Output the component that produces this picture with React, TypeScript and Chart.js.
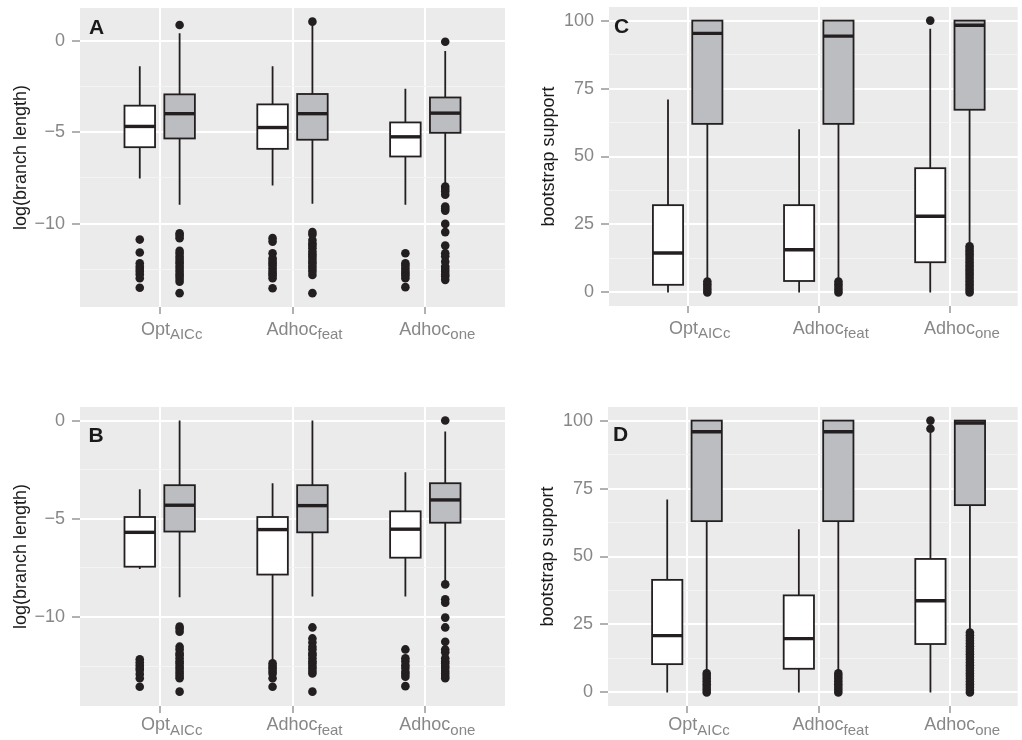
import React, { useEffect, useRef } from 'react';
import { Chart, registerables } from 'chart.js';

Chart.register(...registerables);

// ---------------- data ----------------
const categories = ['Opt', 'Adhoc', 'Adhoc'];
const categorySubscripts = ['AICc', 'feat', 'one'];

// box statistics per category: [lower whisker, Q1, median, Q3, upper whisker]
// Panel A
const aWhiteStats = [
  [-7.53, -5.81, -4.67, -3.53, -1.37],
  [-7.91, -5.9, -4.73, -3.46, -1.37],
  [-8.97, -6.32, -5.24, -4.45, -2.6],
];
const aGreyStats = [
  [-8.97, -5.33, -3.97, -2.91, 0.44],
  [-8.92, -5.4, -3.97, -2.89, 1.0],
  [-7.88, -5.02, -3.94, -3.08, -0.53],
];
const aWhiteOutliers = [
  [-10.88, -11.59, -12.18, -12.36, -12.5, -12.64, -12.8, -13.0, -13.52],
  [-10.8, -10.99, -11.63, -11.9, -12.05, -12.18, -12.3, -12.45, -12.6, -12.73, -12.85, -13.0, -13.55],
  [-11.63, -12.18, -12.3, -12.45, -12.6, -12.73, -12.85, -13.0, -13.49],
];
const aGreyOutliers = [
  [0.9, -10.53, -10.65, -10.8, -11.5, -11.65, -11.81, -11.95, -12.09, -12.2, -12.36, -12.5, -12.64, -12.78, -12.91, -13.05, -13.19, -13.82],
  [1.08, -10.47, -10.6, -10.9, -11.08, -11.2, -11.35, -11.54, -11.68, -11.81, -11.95, -12.09, -12.2, -12.36, -12.5, -12.64, -12.82, -13.82],
  [-0.02, -7.97, -8.1, -8.24, -8.42, -9.07, -9.18, -9.29, -10.02, -10.47, -11.21, -11.63, -11.8, -12.09, -12.36, -12.5, -12.64, -12.8, -12.91, -13.09],
];

// Panel B
const bWhiteStats = [
  [-7.56, -7.44, -5.69, -4.91, -3.5],
  [-12.19, -7.84, -5.55, -4.91, -3.19],
  [-8.96, -6.98, -5.53, -4.62, -2.63],
];
const bGreyStats = [
  [-9.0, -5.65, -4.31, -3.29, 0],
  [-8.96, -5.69, -4.33, -3.29, 0],
  [-8.2, -5.2, -4.04, -3.19, -0.56],
];
const bWhiteOutliers = [
  [-12.15, -12.3, -12.45, -12.6, -12.7, -12.9, -13.12, -13.55],
  [-12.36, -12.5, -12.61, -12.75, -12.87, -13.12, -13.55],
  [-11.65, -12.1, -12.25, -12.45, -12.6, -12.79, -12.9, -13.04, -13.52],
];
const bGreyOutliers = [
  [-10.49, -10.6, -10.75, -11.51, -11.65, -11.85, -11.95, -12.1, -12.25, -12.36, -12.5, -12.61, -12.75, -12.87, -13.0, -13.12, -13.8],
  [-10.53, -11.09, -11.3, -11.51, -11.65, -11.85, -11.95, -12.1, -12.25, -12.36, -12.5, -12.61, -12.75, -12.87, -13.8],
  [0, -8.34, -9.1, -9.27, -10.03, -10.53, -11.26, -11.65, -11.8, -12.1, -12.25, -12.36, -12.5, -12.6, -12.75, -12.87, -13.0, -13.12],
];

// Panel C
const cWhiteStats = [
  [0, 2.8, 14.5, 32.1, 71],
  [0, 4.2, 15.7, 32.1, 60],
  [0, 11.1, 28, 45.7, 97],
];
const cGreyStats = [
  [5, 62, 95.3, 100, 100],
  [5, 62, 94.3, 100, 100],
  [18, 67.2, 98.3, 100, 100],
];
const cWhiteOutliers = [[], [], [100]];
const cGreyOutliers = [
  [0, 1, 2, 3, 4],
  [0, 1, 2, 3, 4],
  [0, 1, 2, 3, 4, 5, 6, 7, 8, 9, 10, 11, 12, 13, 14, 15, 16, 17],
];

// Panel D
const dWhiteStats = [
  [0, 10.4, 20.9, 41.4, 71],
  [0, 8.7, 19.8, 35.7, 60],
  [0, 17.8, 33.7, 49.1, 95.5],
];
const dGreyStats = [
  [8, 63, 95.9, 100, 100],
  [8, 63, 95.9, 100, 100],
  [23, 68.9, 99.1, 100, 100],
];
const dWhiteOutliers = [[], [], [97, 100]];
const dGreyOutliers = [
  [0, 1, 2, 3, 4, 5, 6, 7],
  [0, 1, 2, 3, 4, 5, 6, 7],
  [0, 1, 2, 3, 4, 5, 6, 7, 8, 9, 10, 11, 12, 13, 14, 15, 16, 17, 18, 19, 20, 21, 22],
];

// axis ticks
const branchTicks = [-12.5, -10, -7.5, -5, -2.5, 0];
const branchMajorTicks = [-10, -5, 0];
const supportTicks = [0, 12.5, 25, 37.5, 50, 62.5, 75, 87.5, 100];
const supportMajorTicks = [0, 25, 50, 75, 100];

// ---------------- styles ----------------
const FONT = '"Liberation Sans", Arial, Helvetica, sans-serif';
const INK = '#231F20';
const GREY_FILL = '#BCBDC0';
const PANEL_BG = '#EBEBEB';
const MINOR_GRID = '#F4F4F4';
const AXIS_GREY = '#878787';
const GROUP_OFFSET = 0.15;
const BOX_HALF = 0.115;

type PanelCfg = {
  letter: string;
  title: string;
  whiteStats: number[][];
  greyStats: number[][];
  whiteOut: number[][];
  greyOut: number[][];
  yMin: number;
  yMax: number;
  yTicks: number[];
  yMajor: number[];
  xMax: number;
  left: number;
  top: number;
  width: number;
  height: number;
  padTop: number;
  padRight: number;
  yWidth: number;
  xHeight: number;
  titleX: number;
  letterDx: number;
  letterDy: number;
  labelDy: number;
};

const panels: PanelCfg[] = [
  {
    letter: 'A', title: 'log(branch length)',
    whiteStats: aWhiteStats, greyStats: aGreyStats, whiteOut: aWhiteOutliers, greyOut: aGreyOutliers,
    yMin: -14.58, yMax: 1.83, yTicks: branchTicks, yMajor: branchMajorTicks, xMax: 3.6,
    left: 0, top: 0, width: 511, height: 370, padTop: 8, padRight: 6, yWidth: 80, xHeight: 63,
    titleX: 21, letterDx: 9, letterDy: 26, labelDy: 27.5,
  },
  {
    letter: 'C', title: 'bootstrap support',
    whiteStats: cWhiteStats, greyStats: cGreyStats, whiteOut: cWhiteOutliers, greyOut: cGreyOutliers,
    yMin: -5, yMax: 105, yTicks: supportTicks, yMajor: supportMajorTicks, xMax: 3.517,
    left: 511, top: 0, width: 511, height: 370, padTop: 7, padRight: 0, yWidth: 98, xHeight: 64,
    titleX: 38, letterDx: 5, letterDy: 26, labelDy: 27.5,
  },
  {
    letter: 'B', title: 'log(branch length)',
    whiteStats: bWhiteStats, greyStats: bGreyStats, whiteOut: bWhiteOutliers, greyOut: bGreyOutliers,
    yMin: -14.53, yMax: 0.69, yTicks: branchTicks, yMajor: branchMajorTicks, xMax: 3.6,
    left: 0, top: 370, width: 511, height: 370, padTop: 37, padRight: 6, yWidth: 80, xHeight: 34,
    titleX: 21, letterDx: 8.5, letterDy: 34.5, labelDy: 24,
  },
  {
    letter: 'D', title: 'bootstrap support',
    whiteStats: dWhiteStats, greyStats: dGreyStats, whiteOut: dWhiteOutliers, greyOut: dGreyOutliers,
    yMin: -5, yMax: 105, yTicks: supportTicks, yMajor: supportMajorTicks, xMax: 3.513,
    left: 511, top: 370, width: 511, height: 370, padTop: 37, padRight: 0, yWidth: 97, xHeight: 34,
    titleX: 37, letterDx: 5, letterDy: 34, labelDy: 24,
  },
];

function fmtTick(v: number): string {
  return v < 0 ? '\u2212' + String(Math.abs(v)) : String(v);
}

function outlierPoints(out: number[][], offset: number) {
  const pts: { x: number; y: number }[] = [];
  out.forEach((vals, i) => vals.forEach((v) => pts.push({ x: i + 1 + offset, y: v })));
  return pts;
}

function zeroPadding(s: any) {
  s.paddingTop = 0;
  s.paddingBottom = 0;
  s.paddingLeft = 0;
  s.paddingRight = 0;
}

function makePlugins(cfg: PanelCfg) {
  const background = {
    id: 'panelBackground',
    beforeDraw(chart: any) {
      const { ctx, chartArea } = chart;
      ctx.save();
      ctx.fillStyle = PANEL_BG;
      ctx.fillRect(chartArea.left, chartArea.top, chartArea.right - chartArea.left, chartArea.bottom - chartArea.top);
      ctx.restore();
    },
  };

  const boxes = {
    id: 'boxes',
    afterDatasetsDraw(chart: any) {
      const { ctx, scales, chartArea } = chart;
      const x = scales.x;
      const y = scales.y;
      ctx.save();
      ctx.beginPath();
      ctx.rect(chartArea.left, chartArea.top, chartArea.right - chartArea.left, chartArea.bottom - chartArea.top);
      ctx.clip();
      const sets: [number[][], number, string][] = [
        [cfg.whiteStats, -GROUP_OFFSET, '#FFFFFF'],
        [cfg.greyStats, GROUP_OFFSET, GREY_FILL],
      ];
      sets.forEach(([stats, off, fill]) => {
        stats.forEach((s, i) => {
          const cx = i + 1 + off;
          const px = x.getPixelForValue(cx);
          const xl = x.getPixelForValue(cx - BOX_HALF);
          const xr = x.getPixelForValue(cx + BOX_HALF);
          const [lo, q1, med, q3, hi] = s;
          const yLo = y.getPixelForValue(lo);
          const yQ1 = y.getPixelForValue(q1);
          const yMed = y.getPixelForValue(med);
          const yQ3 = y.getPixelForValue(q3);
          const yHi = y.getPixelForValue(hi);
          ctx.strokeStyle = INK;
          ctx.lineWidth = 1.8;
          ctx.beginPath();
          ctx.moveTo(px, yLo);
          ctx.lineTo(px, yQ1);
          ctx.moveTo(px, yQ3);
          ctx.lineTo(px, yHi);
          ctx.stroke();
          ctx.fillStyle = fill;
          ctx.fillRect(xl, yQ3, xr - xl, yQ1 - yQ3);
          ctx.strokeRect(xl, yQ3, xr - xl, yQ1 - yQ3);
          ctx.lineWidth = 3.4;
          ctx.beginPath();
          ctx.moveTo(xl, yMed);
          ctx.lineTo(xr, yMed);
          ctx.stroke();
        });
      });
      ctx.restore();
    },
  };

  const texts = {
    id: 'texts',
    afterDraw(chart: any) {
      const { ctx, scales, chartArea } = chart;
      const x = scales.x;
      ctx.save();
      // y axis title
      ctx.translate(cfg.titleX, (chartArea.top + chartArea.bottom) / 2);
      ctx.rotate(-Math.PI / 2);
      ctx.font = `18px ${FONT}`;
      ctx.fillStyle = '#1A1A1A';
      ctx.textAlign = 'center';
      ctx.textBaseline = 'middle';
      ctx.fillText(cfg.title, 0, 0);
      ctx.restore();

      // panel letter
      ctx.save();
      ctx.font = `bold 21px ${FONT}`;
      ctx.fillStyle = '#1A1A1A';
      ctx.textAlign = 'left';
      ctx.textBaseline = 'alphabetic';
      ctx.fillText(cfg.letter, chartArea.left + cfg.letterDx, chartArea.top + cfg.letterDy);
      ctx.restore();

      // x category labels with subscripts
      ctx.save();
      ctx.fillStyle = AXIS_GREY;
      ctx.textAlign = 'left';
      ctx.textBaseline = 'alphabetic';
      categories.forEach((main, i) => {
        const sub = categorySubscripts[i];
        const px = x.getPixelForValue(i + 1);
        ctx.font = `18px ${FONT}`;
        const wm = ctx.measureText(main).width;
        ctx.font = `15px ${FONT}`;
        const ws = ctx.measureText(sub).width;
        const start = px + 12 - (wm + ws) / 2;
        const base = chartArea.bottom + cfg.labelDy;
        ctx.font = `18px ${FONT}`;
        ctx.fillText(main, start, base);
        ctx.font = `15px ${FONT}`;
        ctx.fillText(sub, start + wm, base + 4.5);
      });
      ctx.restore();
    },
  };

  return [background, boxes, texts];
}

function Panel({ cfg }: { cfg: PanelCfg }) {
  const ref = useRef<HTMLCanvasElement | null>(null);

  useEffect(() => {
    if (!ref.current) return;
    const chart = new Chart(ref.current, {
      type: 'scatter',
      data: {
        datasets: [
          {
            data: outlierPoints(cfg.whiteOut, -GROUP_OFFSET),
            pointRadius: 4.3,
            pointHoverRadius: 4.3,
            pointBackgroundColor: INK,
            pointBorderWidth: 0,
            pointBorderColor: INK,
          },
          {
            data: outlierPoints(cfg.greyOut, GROUP_OFFSET),
            pointRadius: 4.3,
            pointHoverRadius: 4.3,
            pointBackgroundColor: INK,
            pointBorderWidth: 0,
            pointBorderColor: INK,
          },
        ],
      },
      options: {
        responsive: false,
        animation: false,
        events: [],
        devicePixelRatio: 1,
        layout: { padding: { top: cfg.padTop, right: cfg.padRight, bottom: 0, left: 0 } },
        plugins: { legend: { display: false }, tooltip: { enabled: false } },
        scales: {
          x: {
            type: 'linear',
            min: 0.4,
            max: cfg.xMax,
            afterBuildTicks: (s: any) => {
              s.ticks = categories.map((_, i) => ({ value: i + 1 }));
            },
            afterFit: (s: any) => {
              s.height = cfg.xHeight;
              zeroPadding(s);
            },
            ticks: { display: false, autoSkip: false },
            grid: {
              color: '#FFFFFF',
              lineWidth: 2,
              drawTicks: true,
              tickLength: 7,
              tickColor: AXIS_GREY,
              tickWidth: 1.3,
            },
            border: { display: false },
          },
          y: {
            type: 'linear',
            min: cfg.yMin,
            max: cfg.yMax,
            afterBuildTicks: (s: any) => {
              s.ticks = cfg.yTicks.map((v) => ({ value: v }));
            },
            afterFit: (s: any) => {
              s.width = cfg.yWidth;
              zeroPadding(s);
            },
            ticks: {
              autoSkip: false,
              padding: 7,
              color: AXIS_GREY,
              font: { size: 18, family: FONT },
              callback: (v: any) => (cfg.yMajor.includes(Number(v)) ? fmtTick(Number(v)) : ''),
            },
            grid: {
              color: (c: any) => (cfg.yMajor.includes(c.tick?.value) ? '#FFFFFF' : MINOR_GRID),
              lineWidth: (c: any) => (cfg.yMajor.includes(c.tick?.value) ? 2 : 1),
              drawTicks: true,
              tickLength: 8,
              tickWidth: 1.3,
              tickColor: (c: any) => (cfg.yMajor.includes(c.tick?.value) ? AXIS_GREY : 'rgba(0,0,0,0)'),
            },
            border: { display: false },
          },
        },
      } as any,
      plugins: makePlugins(cfg),
    });
    return () => chart.destroy();
  }, [cfg]);

  return (
    <canvas
      ref={ref}
      width={cfg.width}
      height={cfg.height}
      style={{ position: 'absolute', left: cfg.left, top: cfg.top, width: cfg.width, height: cfg.height, display: 'block' }}
    />
  );
}

export default function App() {
  return (
    <div
      style={{
        position: 'absolute',
        left: 0,
        top: 0,
        width: 1022,
        height: 740,
        overflow: 'hidden',
        background: '#FFFFFF',
      }}
    >
      {panels.map((p) => (
        <Panel key={p.letter} cfg={p} />
      ))}
    </div>
  );
}
